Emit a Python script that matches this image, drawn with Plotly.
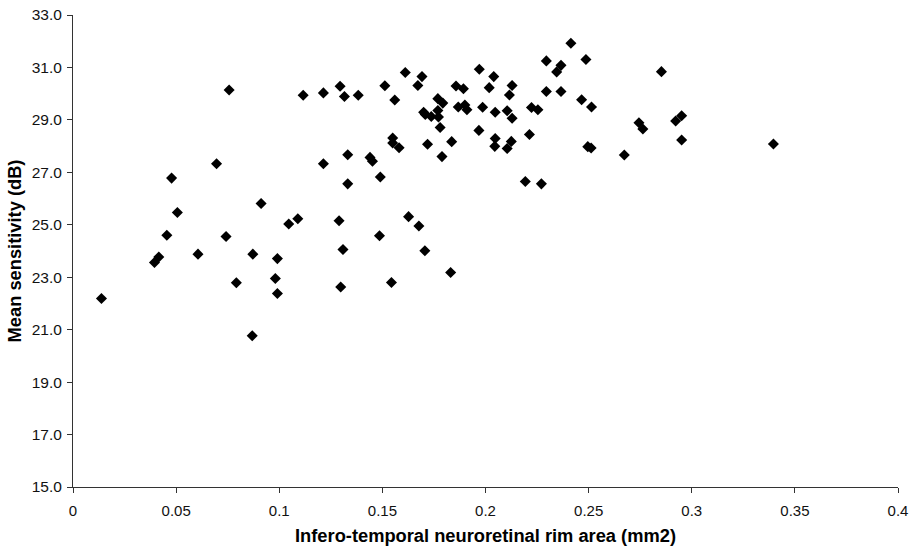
import plotly.graph_objects as go

rim_area = [0.0138, 0.0395, 0.0416, 0.0455, 0.0478, 0.0506, 0.0606, 0.0696, 0.0742, 0.0757,
            0.0792, 0.0872, 0.0869, 0.0912, 0.0991, 0.0981, 0.0991, 0.1046, 0.1090, 0.1116,
            0.1214, 0.1214, 0.1290, 0.1295, 0.1298, 0.1309, 0.1316, 0.1332, 0.1332, 0.1383,
            0.1440, 0.1452, 0.1486, 0.1490, 0.1512, 0.1544, 0.1550, 0.1550, 0.1560, 0.1581,
            0.1611, 0.1627, 0.1672, 0.1677, 0.1692, 0.1700, 0.1708, 0.1706, 0.1719, 0.1737,
            0.1769, 0.1793, 0.1769, 0.1772, 0.1780, 0.1789, 0.1831, 0.1836, 0.1857, 0.1868,
            0.1893, 0.1900, 0.1910, 0.1968, 0.1970, 0.1986, 0.2018, 0.2040, 0.2047, 0.2047,
            0.2045, 0.2105, 0.2105, 0.2116, 0.2125, 0.2129, 0.2129, 0.2193, 0.2213, 0.2223,
            0.2254, 0.2271, 0.2295, 0.2295, 0.2345, 0.2366, 0.2366, 0.2414, 0.2466, 0.2487,
            0.2496, 0.2512, 0.2514, 0.2673, 0.2744, 0.2763, 0.2853, 0.2922, 0.2951, 0.2951,
            0.3396]
sensitivity = [22.19, 23.56, 23.77, 24.60, 26.78, 25.47, 23.88, 27.33, 24.55, 30.14,
               22.79, 23.88, 20.77, 25.81, 23.71, 22.95, 22.38, 25.03, 25.23, 29.94,
               30.03, 27.33, 25.15, 30.28, 22.63, 24.06, 29.89, 26.56, 27.67, 29.94,
               27.57, 27.42, 24.58, 26.82, 30.30, 22.80, 28.31, 28.12, 29.76, 27.94,
               30.81, 25.31, 30.31, 24.95, 30.65, 29.29, 29.21, 24.01, 28.07, 29.13,
               29.81, 29.64, 29.36, 29.11, 28.71, 27.60, 23.18, 28.17, 30.29, 29.49,
               30.19, 29.57, 29.39, 28.60, 30.93, 29.48, 30.23, 30.65, 29.29, 28.29,
               27.99, 29.35, 27.91, 29.95, 28.18, 30.31, 29.06, 26.65, 28.44, 29.47,
               29.39, 26.56, 31.25, 30.08, 30.83, 31.08, 30.08, 31.92, 29.77, 31.30,
               27.98, 27.93, 29.49, 27.66, 28.89, 28.65, 30.84, 28.96, 29.16, 28.23,
               28.08]

x_ticks = [0, 0.05, 0.1, 0.15, 0.2, 0.25, 0.3, 0.35, 0.4]
x_tick_labels = ["0", "0.05", "0.1", "0.15", "0.2", "0.25", "0.3", "0.35", "0.4"]
y_ticks = [15, 17, 19, 21, 23, 25, 27, 29, 31, 33]
y_tick_labels = ["15.0", "17.0", "19.0", "21.0", "23.0", "25.0", "27.0", "29.0", "31.0", "33.0"]

fig = go.Figure(go.Scatter(
    x=rim_area, y=sensitivity, mode="markers",
    marker=dict(symbol="diamond", size=8.5, color="black"),
))

font_family = "Liberation Sans, Arial, sans-serif"
fig.update_layout(
    width=911, height=553,
    margin=dict(l=73, r=13, t=15, b=66),
    paper_bgcolor="white", plot_bgcolor="white",
    showlegend=False,
    font=dict(family=font_family, color="black", size=15),
    xaxis=dict(
        range=[0, 0.4], tickvals=x_ticks, ticktext=x_tick_labels,
        showgrid=False, zeroline=False, showline=True, linecolor="#333", linewidth=1,
        ticks="outside", ticklen=5, tickcolor="#333", automargin=False,
        ticklabeloverflow="allow", ticklabelstandoff=5,
        tickfont=dict(size=15, family=font_family, color="#111"),
        title=dict(text="<b>Infero-temporal neuroretinal rim area (mm2)</b>",
                   font=dict(size=18.3, family=font_family), standoff=11),
    ),
    yaxis=dict(
        range=[15, 33], tickvals=y_ticks, ticktext=y_tick_labels,
        showgrid=False, zeroline=False, showline=True, linecolor="#333", linewidth=1,
        ticks="outside", ticklen=5, tickcolor="#333", automargin=False,
        ticklabelstandoff=2,
        tickfont=dict(size=15.5, family=font_family, color="#111"),
        title=dict(text="<b>Mean sensitivity (dB)</b>",
                   font=dict(size=18.3, family=font_family), standoff=5),
    ),
)

fig.write_html("out.html")
